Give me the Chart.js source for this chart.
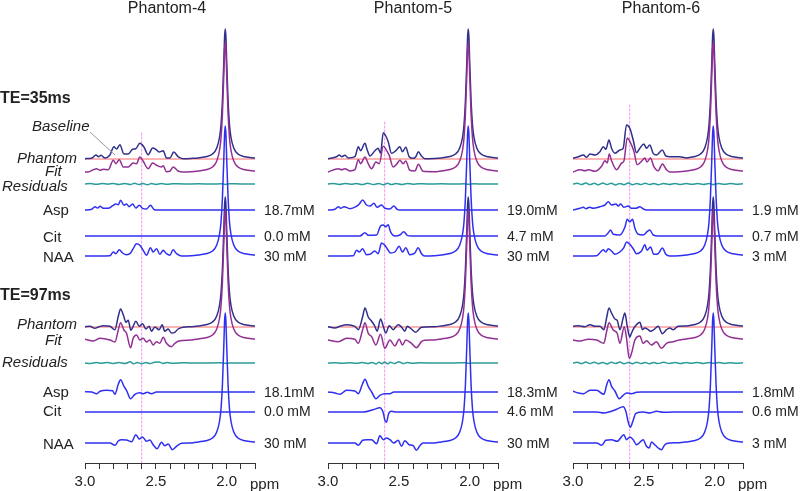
<!DOCTYPE html>
<html>
<head>
<meta charset="utf-8">
<script src="https://cdn.jsdelivr.net/npm/chart.js@4.4.0/dist/chart.umd.min.js"></script>
<style>
  html, body { margin: 0; padding: 0; background: #fff; }
  #wrap { position: relative; width: 800px; height: 491px; overflow: hidden; font-family: "Liberation Sans", Arial, sans-serif; color: #222; }
  canvas { position: absolute; top: 0; }
  .t { position: absolute; white-space: nowrap; line-height: 1; font-size: 15px; transform: translateY(-50%); }
  .c { transform: translate(-50%, -50%); font-size: 16px; }
  .i { font-style: italic; }
  .b { font-weight: bold; font-size: 16px; }
  .m { font-size: 14px; }
  svg { position: absolute; left: 0; top: 0; }
</style>
</head>
<body>
<div id="wrap"></div>
<script>
// values are amplitudes (arbitrary units, ~px), by ppm
const markerPpm = 2.6;
const ppmTicks = ["3.0", "2.5", "2.0"];
const titles = ["Phantom-4", "Phantom-5", "Phantom-6"];
const concLabels = [
  ["18.7mM", "0.0 mM", "30 mM", "18.1mM", "0.0 mM", "30 mM"],
  ["19.0mM", "4.7 mM", "30 mM", "18.3mM", "4.6 mM", "30 mM"],
  ["1.9 mM", "0.7 mM", "3 mM", "1.8mM", "0.6 mM", "3 mM"],
];

// NAA singlet at 2.01 ppm (shared by phantom, fit and NAA rows)
const naaSinglet = [[2.20,1.1],[2.15,2.2],[2.10,5],[2.07,11],[2.05,22],[2.04,34],[2.03,58],[2.02,98],[2.015,121],[2.01,130],[2.005,121],[2.0,98],[1.99,58],[1.98,34],[1.97,22],[1.95,11],[1.92,5],[1.87,2.2],[1.80,1]];

// Phantom-4
const p4_35_phantom = [[3.0,0.3],[2.95,1],[2.923,4],[2.904,2.3],[2.887,3.7],[2.859,1],[2.824,4],[2.796,12.3],[2.777,10],[2.754,14.3],[2.725,5],[2.695,5],[2.664,9.7],[2.641,10.3],[2.613,15.7],[2.585,12.3],[2.554,4.3],[2.523,11],[2.5,9.7],[2.477,7],[2.448,8.3],[2.425,1],[2.401,1],[2.373,7],[2.343,2.3],[2.308,0.3],[2.25,0.6]];
const p4_35_fit = [[3.0,0],[2.977,0],[2.941,2.3],[2.918,3.3],[2.894,1.7],[2.871,2.7],[2.836,2.3],[2.8,11.7],[2.782,8.3],[2.758,12.3],[2.73,5],[2.695,5],[2.66,9],[2.636,8.3],[2.613,15],[2.589,10.7],[2.554,3.3],[2.523,9],[2.495,6.7],[2.46,5],[2.448,6.3],[2.425,0.3],[2.401,0.7],[2.378,5],[2.343,1],[2.308,0],[2.25,0.3]];
const p4_35_resid = [[3.0,0],[2.96,0.4],[2.92,-0.3],[2.88,0.5],[2.84,-0.2],[2.80,0.6],[2.76,-0.4],[2.72,0.5],[2.68,-0.5],[2.65,0.8],[2.62,-0.6],[2.59,0.5],[2.56,-0.7],[2.53,0.4],[2.50,-0.4],[2.46,0.5],[2.42,-0.3],[2.38,0.3],[2.30,0],[2.20,0.2],[2.10,-0.1],[2.04,0.3],[2.01,-0.4],[1.98,0.3],[1.90,0],[1.80,0]];
const p4_35_asp = [[3.0,0],[2.953,0.7],[2.93,3.3],[2.911,2],[2.894,3.7],[2.871,1.7],[2.836,1.7],[2.805,4.3],[2.782,6],[2.765,5.3],[2.749,9.7],[2.725,4.7],[2.707,6],[2.688,3.3],[2.664,6],[2.641,2],[2.617,4.7],[2.594,1.7],[2.566,1],[2.538,4.7],[2.514,0.7],[2.495,0],[1.8,0]];
const p4_35_cit = [[3.0,0],[1.8,0]];
const p4_35_naa = [[3.0,0],[2.824,0.3],[2.8,4],[2.782,2.3],[2.758,6.3],[2.735,3],[2.707,1.3],[2.678,3],[2.66,7.3],[2.636,12.3],[2.613,10.7],[2.589,5.7],[2.566,0.7],[2.538,8.3],[2.519,4],[2.495,7.3],[2.472,1.7],[2.448,5.7],[2.425,2.3],[2.401,0.7],[2.378,6.3],[2.354,2.3],[2.319,0],[2.25,0.3]];
const p4_97_phantom = [[3.0,0.3],[2.965,0.7],[2.93,-1.3],[2.906,0],[2.871,1.3],[2.824,0.7],[2.789,-2.7],[2.765,10.7],[2.749,18],[2.73,12.3],[2.711,4.7],[2.695,6.7],[2.676,-3.3],[2.66,0.7],[2.641,5.7],[2.617,0.7],[2.594,3.3],[2.57,-2],[2.547,0.7],[2.531,-4.3],[2.507,0],[2.477,-2.7],[2.455,2.3],[2.437,-4.3],[2.413,-2],[2.39,-6],[2.366,-5.3],[2.343,-2],[2.308,-0.3],[2.25,0.3]];
const p4_97_fit = [[3.0,0.7],[2.941,-1],[2.894,1.7],[2.824,0],[2.789,-2],[2.765,10],[2.749,17.3],[2.725,10],[2.707,6.7],[2.678,-7.7],[2.66,1.7],[2.636,5],[2.613,0],[2.589,1.7],[2.566,-2],[2.542,0],[2.519,-5],[2.495,-1.7],[2.472,-3.3],[2.448,2.7],[2.425,-3.3],[2.39,-6.7],[2.366,-3.3],[2.331,-0.7],[2.25,0]];
const p4_97_resid = [[3.0,0],[2.96,-0.5],[2.92,0.4],[2.88,-0.3],[2.84,0.6],[2.80,-0.5],[2.76,0.4],[2.72,-0.6],[2.68,1.2],[2.66,-0.8],[2.63,0.5],[2.60,-0.8],[2.57,0.6],[2.54,-0.5],[2.51,0.7],[2.48,1.0],[2.45,-0.4],[2.42,0.5],[2.38,-0.3],[2.30,0.2],[2.20,0],[2.05,0.2],[2.01,-0.3],[1.95,0.1],[1.80,0]];
const p4_97_asp = [[3.0,0.3],[2.953,0],[2.918,-1.7],[2.894,0.7],[2.847,1.7],[2.805,1.3],[2.789,-2.3],[2.765,7.7],[2.749,12.3],[2.725,5.7],[2.707,1.7],[2.678,-6.7],[2.648,-2.3],[2.613,-0.7],[2.589,-1.7],[2.56,-0.3],[2.531,-1.7],[2.495,0],[1.8,0]];
const p4_97_cit = [[3.0,0],[1.8,0]];
const p4_97_naa = [[3.0,0],[2.824,0],[2.789,-2.3],[2.765,2],[2.742,3.3],[2.707,3],[2.671,1.3],[2.641,8.3],[2.617,4],[2.594,6],[2.566,1.7],[2.542,3],[2.519,-1.7],[2.491,-5.7],[2.46,0.7],[2.437,-2.7],[2.413,-1],[2.383,-6.7],[2.354,-3.3],[2.319,-0.3],[2.25,0]];

// Phantom-5
const p5_35_phantom = [[3.0,0.3],[2.939,2.3],[2.92,4],[2.904,2.3],[2.88,3.7],[2.857,1],[2.81,2.3],[2.786,12.3],[2.77,8.3],[2.739,15.7],[2.723,9],[2.704,3],[2.669,8.3],[2.646,10.7],[2.629,5.7],[2.61,26.3],[2.592,23],[2.575,17.3],[2.552,5.7],[2.521,8.3],[2.493,12.3],[2.474,7.3],[2.451,11.7],[2.427,2.3],[2.399,0.7],[2.38,2.3],[2.362,7.3],[2.34,3],[2.317,0.3],[2.25,0.6]];
const p5_35_fit = [[3.0,0],[2.927,3.3],[2.904,2.3],[2.88,3.3],[2.845,1],[2.81,2.3],[2.786,12.3],[2.77,8.3],[2.739,15],[2.716,8.3],[2.692,3.3],[2.662,10],[2.638,8.3],[2.61,25.7],[2.587,21.7],[2.568,16.7],[2.54,5],[2.516,7.7],[2.493,11.7],[2.469,8.3],[2.451,11],[2.423,1.7],[2.387,1],[2.362,7.7],[2.329,0.7],[2.25,0.3]];
const p5_35_resid = [[3.0,0],[2.96,0.5],[2.92,-0.4],[2.88,0.6],[2.84,-0.3],[2.80,0.5],[2.76,-0.6],[2.72,0.7],[2.68,-0.5],[2.64,0.6],[2.61,-0.8],[2.58,0.7],[2.55,-0.6],[2.52,0.5],[2.48,-0.5],[2.44,0.6],[2.40,-0.3],[2.36,0.3],[2.30,0],[2.20,0.2],[2.10,-0.1],[2.04,0.3],[2.01,-0.3],[1.97,0.2],[1.90,0],[1.80,0]];
const p5_35_asp = [[3.0,0],[2.951,0.7],[2.927,3.3],[2.91,1.7],[2.887,3.3],[2.845,1.3],[2.803,3.3],[2.779,6],[2.756,10],[2.728,5],[2.704,4],[2.676,6.7],[2.653,2.7],[2.622,5],[2.599,1.7],[2.563,1],[2.535,4],[2.512,0.7],[2.493,0],[1.8,0]];
const p5_35_cit = [[3.0,0],[2.775,0],[2.739,3.3],[2.716,0.7],[2.657,1],[2.629,10],[2.61,11],[2.592,9.3],[2.575,11.3],[2.559,4.3],[2.528,0],[2.493,1],[2.465,4.3],[2.441,0.7],[2.411,0],[1.8,0]];
const p5_35_naa = [[3.0,0],[2.822,0.3],[2.798,5.7],[2.779,4],[2.756,7.3],[2.728,1.3],[2.704,1.7],[2.669,5],[2.646,2.3],[2.622,13],[2.599,10.7],[2.582,7.3],[2.559,3],[2.528,4],[2.498,9.7],[2.474,4],[2.451,8.3],[2.423,1.3],[2.387,3],[2.364,8.3],[2.34,2.3],[2.317,0],[2.25,0.3]];
const p5_97_phantom = [[3.0,0.3],[2.951,-1],[2.915,0.7],[2.869,2.3],[2.81,0.7],[2.786,-2.7],[2.756,10],[2.739,19],[2.716,10],[2.692,5.7],[2.669,0.7],[2.653,-4.3],[2.629,8],[2.61,0.7],[2.592,-6],[2.568,1.3],[2.54,-2.7],[2.505,2.3],[2.481,0],[2.458,-4.3],[2.441,0.7],[2.411,-2],[2.38,-5.3],[2.364,-3.3],[2.34,-0.3],[2.25,0.3]];
const p5_97_fit = [[3.0,0],[2.927,-1.7],[2.869,1.7],[2.81,0.7],[2.786,-3.3],[2.756,10],[2.739,17.3],[2.716,6.7],[2.692,3.3],[2.662,-5],[2.629,5.7],[2.599,-8.3],[2.563,0],[2.528,-6],[2.498,0.7],[2.474,-5],[2.451,0],[2.411,-3.3],[2.376,-7.7],[2.34,-1.7],[2.317,-0.3],[2.25,0]];
const p5_97_resid = [[3.0,0],[2.95,0.3],[2.90,-0.3],[2.85,0.3],[2.80,-0.2],[2.76,0.4],[2.72,-0.5],[2.69,0.6],[2.66,-0.9],[2.64,0.8],[2.62,-0.7],[2.60,1.0],[2.58,-0.8],[2.56,0.7],[2.53,-0.5],[2.50,1.2],[2.47,-0.6],[2.44,0.4],[2.40,-0.3],[2.35,0.2],[2.25,0],[2.10,0.1],[2.03,0.2],[2.01,-0.3],[1.95,0.1],[1.80,0]];
const p5_97_asp = [[3.0,0],[2.951,-1],[2.915,-2.3],[2.869,1.7],[2.81,1],[2.786,-1.7],[2.756,8.3],[2.739,12.7],[2.716,5.7],[2.692,0],[2.662,-6.7],[2.634,-3.3],[2.599,-1.7],[2.563,-1.7],[2.535,0],[1.8,0]];
const p5_97_cit = [[3.0,0],[2.751,0],[2.681,2.3],[2.634,4.3],[2.61,-0.7],[2.599,-8],[2.587,-10.3],[2.573,-2],[2.552,0.7],[2.516,0],[1.8,0]];
const p5_97_naa = [[3.0,0],[2.81,0],[2.786,-2.3],[2.756,2.7],[2.728,3.3],[2.692,3.3],[2.657,-0.7],[2.634,7.3],[2.61,3.3],[2.587,5],[2.563,3.3],[2.535,0],[2.505,2.7],[2.481,-3.3],[2.458,2.3],[2.427,-1.7],[2.399,-2.7],[2.376,-7.3],[2.352,-2.7],[2.329,0],[2.25,0]];

// Phantom-6
const p6_35_phantom = [[3.0,0.7],[2.962,2.3],[2.927,4],[2.904,1.7],[2.88,5],[2.845,4],[2.81,7.3],[2.786,12.3],[2.768,9.7],[2.746,19],[2.728,10.7],[2.704,5.7],[2.669,9],[2.646,10.7],[2.622,34],[2.599,30.7],[2.575,19],[2.552,6.3],[2.528,10.7],[2.5,15],[2.481,10.7],[2.458,14],[2.434,5.7],[2.411,4],[2.369,9],[2.345,3],[2.317,2.3],[2.25,2.3]];
const p6_35_fit = [[3.0,0],[2.951,2.3],[2.915,1.3],[2.892,2.3],[2.845,0.7],[2.798,5.7],[2.775,11.3],[2.758,9],[2.744,18],[2.728,11.3],[2.692,2.3],[2.657,9],[2.641,10.7],[2.617,34],[2.599,30.7],[2.57,20.7],[2.547,7.3],[2.516,10.7],[2.493,14],[2.477,10],[2.453,14],[2.43,5.7],[2.399,1.3],[2.369,8],[2.34,2.3],[2.317,0],[2.25,0.3]];
const p6_35_resid = [[3.0,0],[2.97,0.8],[2.94,-0.5],[2.91,1.0],[2.88,-0.6],[2.85,0.7],[2.82,-0.8],[2.79,0.9],[2.76,-0.5],[2.73,0.8],[2.70,-0.9],[2.67,0.6],[2.64,-0.7],[2.61,1.0],[2.58,-0.8],[2.55,0.6],[2.52,-0.6],[2.49,0.8],[2.46,-0.5],[2.43,0.6],[2.40,-0.7],[2.36,0.5],[2.32,-0.4],[2.28,0.6],[2.24,-0.5],[2.20,0.4],[2.16,-0.3],[2.12,0.5],[2.08,-0.4],[2.04,0.6],[2.01,-0.5],[1.97,0.5],[1.93,-0.3],[1.89,0.5],[1.85,-0.2],[1.80,0.3]];
const p6_35_asp = [[3.0,0],[2.951,1.7],[2.927,2.7],[2.908,1.3],[2.885,2.7],[2.857,1.7],[2.81,3.3],[2.775,5],[2.751,8.3],[2.728,5],[2.697,6],[2.681,4],[2.664,6],[2.641,2.7],[2.61,4],[2.587,1.7],[2.556,1.7],[2.528,3.3],[2.5,0.7],[2.481,0],[1.8,0]];
const p6_35_cit = [[3.0,0],[2.775,0],[2.751,3.3],[2.735,6],[2.716,1.7],[2.669,1],[2.634,8.7],[2.617,16.7],[2.599,14.3],[2.58,16.7],[2.563,7.7],[2.54,1.7],[2.505,1],[2.477,4.3],[2.458,6],[2.434,1],[2.399,0],[1.8,0]];
const p6_35_naa = [[3.0,0],[2.833,0.3],[2.805,4],[2.786,6.3],[2.768,4],[2.751,7.3],[2.728,5],[2.704,1.7],[2.669,4],[2.641,8.3],[2.622,14],[2.599,11.7],[2.575,7.3],[2.552,2.3],[2.516,5],[2.493,11.3],[2.477,5.7],[2.453,9],[2.43,1.7],[2.399,2.3],[2.369,8],[2.345,1.7],[2.317,0],[2.25,0.3]];
const p6_97_phantom = [[3.0,0.7],[2.962,1.3],[2.915,0.3],[2.88,2.3],[2.845,0.7],[2.81,0.7],[2.782,-2.7],[2.763,9],[2.746,19],[2.728,14],[2.704,8],[2.688,6.7],[2.669,-2.7],[2.646,9],[2.634,14],[2.617,0.7],[2.599,-10],[2.587,-6],[2.57,-1],[2.552,2.3],[2.528,4.7],[2.509,-2.7],[2.493,-1],[2.469,-2.7],[2.453,-4.3],[2.43,-2.7],[2.399,0.7],[2.369,-6.7],[2.34,-2.7],[2.317,-1],[2.293,-2.7],[2.258,0.7]];
const p6_97_fit = [[3.0,0],[2.951,-1],[2.892,0.7],[2.833,0],[2.782,-3.3],[2.763,8.3],[2.746,17.3],[2.716,10],[2.688,6.7],[2.669,-3.3],[2.638,13.3],[2.622,1.7],[2.603,-18.3],[2.587,-13.3],[2.563,0],[2.528,4],[2.505,-3.3],[2.481,-0.7],[2.446,-5],[2.411,-1.7],[2.376,-8.3],[2.34,-3.3],[2.293,-1.7],[2.25,0]];
const p6_97_resid = [[3.0,0],[2.97,0.7],[2.94,-0.6],[2.91,0.9],[2.88,-0.5],[2.85,0.8],[2.82,-0.7],[2.79,0.6],[2.76,-0.9],[2.73,0.7],[2.70,-0.5],[2.67,1.0],[2.64,-0.8],[2.61,0.6],[2.58,-0.7],[2.55,0.8],[2.52,-0.6],[2.49,0.5],[2.46,-0.7],[2.43,0.6],[2.40,-0.5],[2.36,0.7],[2.32,-0.4],[2.28,0.5],[2.24,-0.6],[2.20,0.4],[2.16,-0.3],[2.12,0.6],[2.08,-0.4],[2.04,0.4],[2.01,-0.3],[1.97,0.5],[1.93,-0.4],[1.89,0.3],[1.85,-0.3],[1.80,0.2]];
const p6_97_asp = [[3.0,0.7],[2.962,-1],[2.927,-1.7],[2.88,1.7],[2.833,1.7],[2.782,-2.3],[2.763,6.7],[2.746,12.3],[2.728,5.7],[2.704,1],[2.674,-6.7],[2.646,-3.3],[2.622,-1],[2.587,-1.7],[2.552,-0.3],[2.516,0],[1.8,0]];
const p6_97_cit = [[3.0,0],[2.833,0],[2.782,-1],[2.74,0.3],[2.692,2.7],[2.646,5.3],[2.627,0.7],[2.61,-10.3],[2.594,-15.3],[2.58,-10.3],[2.556,-1.3],[2.505,0],[2.458,-1],[2.411,0.7],[2.364,-0.3],[2.293,0],[1.8,0]];
const p6_97_naa = [[3.0,0],[2.833,0],[2.798,-2.3],[2.768,2.7],[2.728,3.3],[2.688,1.7],[2.641,8.3],[2.622,3.3],[2.599,6],[2.575,3.3],[2.552,-1.7],[2.533,0],[2.505,3.3],[2.481,-3.3],[2.462,-5],[2.446,1],[2.423,-1.7],[2.399,-5],[2.376,-6.7],[2.352,-1.7],[2.317,0],[2.25,0.3]];

// ---- layout ----
const FONT = '"Liberation Sans", Arial, sans-serif';
const AXIS_Y = 463;   // pixel row of the ppm axis
const AXIS_H = 28;
const PANEL_W = 170;
const PAD = 20;
const rowOrder = ["phantom", "fit", "resid", "asp", "cit", "naa"];
const rowY = {
  te35: { phantom: 159, fit: 172, resid: 184, asp: 210, cit: 236, naa: 256 },
  te97: { phantom: 327, fit: 340, resid: 363, asp: 392, cit: 412, naa: 443 },
};
const withPeak = { phantom: true, fit: true, naa: true };
const colors = {
  phantom: "#2f2f8c", fit: "#922f92", resid: "#2b9c99",
  asp: "#2f2ff2", cit: "#2f2ff2", naa: "#2f2ff2",
  base: "#ff6b6b", marker: "#f095f0", axis: "#333",
};

const panels = [
  { left: 85, center: 167, markerTop: 133,
    traces: { te35: { phantom: p4_35_phantom, fit: p4_35_fit, resid: p4_35_resid, asp: p4_35_asp, cit: p4_35_cit, naa: p4_35_naa },
              te97: { phantom: p4_97_phantom, fit: p4_97_fit, resid: p4_97_resid, asp: p4_97_asp, cit: p4_97_cit, naa: p4_97_naa } } },
  { left: 328, center: 413, markerTop: 122,
    traces: { te35: { phantom: p5_35_phantom, fit: p5_35_fit, resid: p5_35_resid, asp: p5_35_asp, cit: p5_35_cit, naa: p5_35_naa },
              te97: { phantom: p5_97_phantom, fit: p5_97_fit, resid: p5_97_resid, asp: p5_97_asp, cit: p5_97_cit, naa: p5_97_naa } } },
  { left: 573, center: 661, markerTop: 105,
    traces: { te35: { phantom: p6_35_phantom, fit: p6_35_fit, resid: p6_35_resid, asp: p6_35_asp, cit: p6_35_cit, naa: p6_35_naa },
              te97: { phantom: p6_97_phantom, fit: p6_97_fit, resid: p6_97_resid, asp: p6_97_asp, cit: p6_97_cit, naa: p6_97_naa } } },
];

const wrap = document.getElementById("wrap");

function label(text, x, y, cls) {
  const d = document.createElement("div");
  d.className = "t " + (cls || "");
  d.textContent = text;
  d.style.left = x + "px";
  d.style.top = y + "px";
  wrap.appendChild(d);
}

function line(points, color, width, extra) {
  return Object.assign({
    data: points, borderColor: color, borderWidth: width,
    pointRadius: 0, fill: false, cubicInterpolationMode: "monotone",
  }, extra || {});
}

function buildDatasets(p) {
  const sets = [];
  sets.push(line([{ x: markerPpm, y: AXIS_Y - p.markerTop }, { x: markerPpm, y: 0 }], colors.marker, 1,
    { borderDash: [2, 2], cubicInterpolationMode: "default", tension: 0 }));
  ["te35", "te97"].forEach((te) => {
    const rows = rowY[te];
    const b0 = AXIS_Y - rows.phantom;
    sets.push(line([{ x: 3.0, y: b0 }, { x: 1.8, y: b0 }], colors.base, 1.2, { cubicInterpolationMode: "default", tension: 0 }));
    rowOrder.forEach((r) => {
      let src = p.traces[te][r];
      if (withPeak[r]) src = src.concat(naaSinglet);
      const b = AXIS_Y - rows[r];
      sets.push(line(src.map(([x, a]) => ({ x, y: b + a })), colors[r], 1.5));
    });
  });
  // first dataset is painted last, so put the ones meant to be on top first
  return sets.reverse();
}

panels.forEach((p, i) => {
  const cv = document.createElement("canvas");
  cv.width = PANEL_W + 2 * PAD;
  cv.height = 491;
  cv.style.left = (p.left - PAD) + "px";
  wrap.appendChild(cv);

  new Chart(cv, {
    type: "line",
    data: { datasets: buildDatasets(p) },
    options: {
      responsive: false,
      animation: false,
      events: [],
      devicePixelRatio: 1,
      layout: { padding: { left: PAD, right: PAD, top: 0, bottom: 0 } },
      plugins: { legend: { display: false }, tooltip: { enabled: false } },
      elements: { line: { borderJoinStyle: "round", borderCapStyle: "round" } },
      scales: {
        x: {
          type: "linear", reverse: true, min: 1.8, max: 3.0,
          afterFit: (s) => { s.height = AXIS_H; },
          border: { display: true, color: colors.axis, width: 1 },
          grid: { display: true, drawOnChartArea: false, drawTicks: true, tickLength: 6, color: colors.axis },
          ticks: {
            stepSize: 0.1, autoSkip: false, maxRotation: 0, padding: 4, color: "#222",
            font: { family: FONT, size: 15 },
            callback: (v) => { const s = Number(v).toFixed(1); return ppmTicks.includes(s) ? s : ""; },
          },
        },
        y: { display: false, min: 0, max: AXIS_Y },
      },
    },
  });

  label(titles[i], p.center, 8, "c");
  label("ppm", p.left + PANEL_W - 5, 483);
  const rx = p.left + PANEL_W + 9;
  const ys = [210, 236, 256, 392, 411, 443];
  concLabels[i].forEach((t, k) => label(t, rx, ys[k], "m"));
});

label("TE=35ms", 0, 98, "b");
label("TE=97ms", 0, 295, "b");
label("Baseline", 32, 125, "i");
label("Phantom", 17, 157, "i");
label("Fit", 45, 170, "i");
label("Residuals", 2, 185, "i");
label("Phantom", 17, 323, "i");
label("Fit", 45, 339, "i");
label("Residuals", 2, 361, "i");
[["Asp", 209], ["Cit", 236], ["NAA", 256], ["Asp", 391], ["Cit", 410], ["NAA", 443]].forEach(([t, y]) => label(t, 43, y));

const svg = document.createElementNS("http://www.w3.org/2000/svg", "svg");
svg.setAttribute("width", 800);
svg.setAttribute("height", 491);
const lead = document.createElementNS("http://www.w3.org/2000/svg", "line");
lead.setAttribute("x1", 90); lead.setAttribute("y1", 132);
lead.setAttribute("x2", 115); lead.setAttribute("y2", 155);
lead.setAttribute("stroke", "#999"); lead.setAttribute("stroke-width", 1);
svg.appendChild(lead);
wrap.appendChild(svg);
</script>
</body>
</html>
